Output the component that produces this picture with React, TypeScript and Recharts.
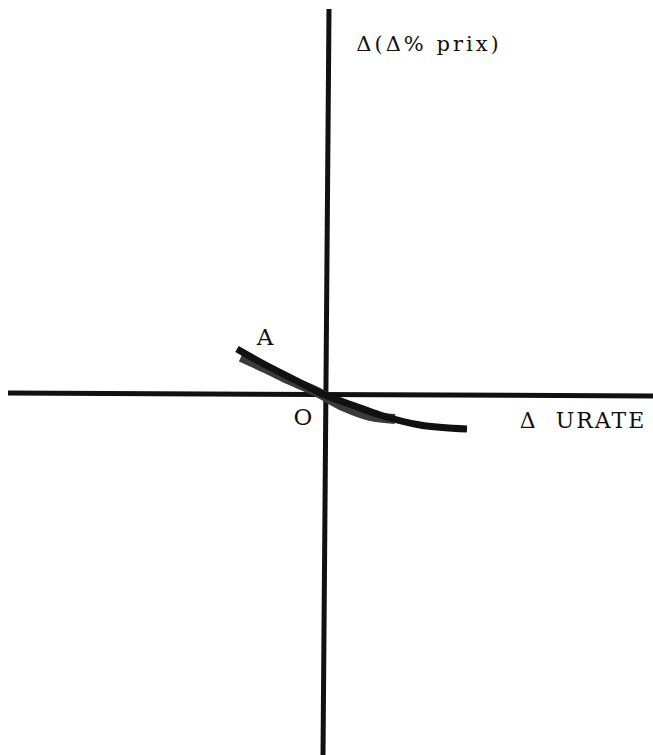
import {
  Line,
  LineChart,
  ReferenceDot,
  ReferenceLine,
  XAxis,
  YAxis
} from "recharts";

// trade-off curve through the origin (units ~ px from O)
const curveX = [-88, -65, -30, 0, 30, 55, 95, 142];
const curveY = [46, 33, 15, 0, -11, -20, -30, -34];

// stippled band hugging the curve
const bandX = [-84, -60, -35, -10, 20, 45, 70];
const bandY = [38, 27, 15, 4, -12, -21, -24];

const xLabel = "Δ\u00a0\u00a0URATE";
const yLabel = "Δ(Δ% prix)";
const pointA = "A";
const origin = "O";

const ink = "#111";
const font = "'DejaVu Serif', 'Liberation Serif', serif";

const curve = curveX.map((x, i) => ({ x, y: curveY[i] }));
const band = bandX.map((x, i) => ({ x, y: bandY[i] }));

function text(value: string, fontSize: number, letterSpacing = 0) {
  return { value, position: "center" as const, fill: ink, fontSize, fontFamily: font, letterSpacing };
}

export default function App() {
  return (
    <div style={{ position: "absolute", left: 0, top: 0, width: 653, height: 755, background: "#fff" }}>
      <LineChart width={653} height={755} margin={{ top: 0, right: 0, bottom: 0, left: 0 }}>
        <XAxis type="number" dataKey="x" domain={[-325, 328]} hide allowDataOverflow />
        <YAxis type="number" dataKey="y" domain={[-360, 395]} hide allowDataOverflow />
        <ReferenceLine
          segment={[{ x: -317, y: 2 }, { x: 328, y: -1 }]}
          stroke={ink}
          strokeWidth={5}
          ifOverflow="visible"
        />
        <ReferenceLine
          segment={[{ x: 4, y: 386 }, { x: -2, y: -360 }]}
          stroke={ink}
          strokeWidth={5}
          ifOverflow="visible"
        />
        <Line
          data={band}
          dataKey="y"
          type="monotone"
          stroke="#3a3a3a"
          strokeWidth={10}
          dot={false}
          activeDot={false}
          isAnimationActive={false}
        />
        <Line
          data={curve}
          dataKey="y"
          type="monotone"
          stroke={ink}
          strokeWidth={7}
          dot={false}
          activeDot={false}
          isAnimationActive={false}
        />
        <ReferenceDot x={-60} y={58} r={0} ifOverflow="visible" label={text(pointA, 23)} />
        <ReferenceDot x={-22} y={-22} r={0} ifOverflow="visible" label={text(origin, 23)} />
        <ReferenceDot x={258} y={-25} r={0} ifOverflow="visible" label={text(xLabel, 22, 2)} />
        <ReferenceDot x={104} y={351} r={0} ifOverflow="visible" label={text(yLabel, 21, 3)} />
      </LineChart>
    </div>
  );
}
